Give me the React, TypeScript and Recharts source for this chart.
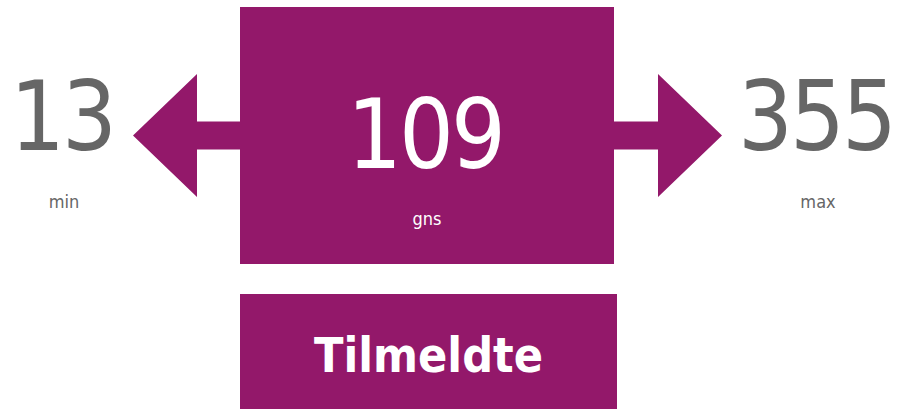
import React from 'react';
import { ComposedChart, XAxis, YAxis, ReferenceArea } from 'recharts';

const PURPLE = '#93186a';
const GRAY = '#666666';
const FONT = '"DejaVu Sans Condensed", "DejaVu Sans", sans-serif';

// data
const statNames = ['min', 'gns', 'max'];
const statValues = [13, 109, 355];
const title = 'Tilmeldte';

const W = 901;
const H = 409;

const data = [{ name: title, min: statValues[0], avg: statValues[1], max: statValues[2] }];

function arrowShape(dir: 'left' | 'right') {
  return (props: any) => {
    const { x, y, width, height } = props;
    const cy = y + height / 2;
    const head = 64;
    const half = 14;
    let pts: number[][];
    if (dir === 'left') {
      pts = [
        [x, cy], [x + head, y], [x + head, cy - half], [x + width, cy - half],
        [x + width, cy + half], [x + head, cy + half], [x + head, y + height],
      ];
    } else {
      pts = [
        [x + width, cy], [x + width - head, y], [x + width - head, cy - half], [x, cy - half],
        [x, cy + half], [x + width - head, cy + half], [x + width - head, y + height],
      ];
    }
    return <polygon points={pts.map(p => p.join(',')).join(' ')} fill={PURPLE} />;
  };
}

function statLabel(value: number, name: string, color: string, valueY: number, nameY: number) {
  return (props: any) => {
    const vb = props.viewBox || {};
    const cx = vb.x + vb.width / 2;
    return (
      <g fontFamily={FONT} fill={color} textAnchor="middle">
        <text x={cx - 2} y={valueY} fontSize={96} letterSpacing={-3}>{value}</text>
        <text x={cx} y={nameY} fontSize={18}>{name}</text>
      </g>
    );
  };
}

function titleLabel(props: any) {
  const vb = props.viewBox || {};
  return (
    <text x={vb.x + vb.width / 2} y={372} fontFamily={FONT} fontWeight="bold" fontSize={48}
      fill="#ffffff" textAnchor="middle">{title}</text>
  );
}

export default function App() {
  return (
    <div style={{ position: 'absolute', left: 0, top: 0, background: '#fff' }}>
      <ComposedChart width={W} height={H} data={data} margin={{ top: 0, right: 0, bottom: 0, left: 0 }}>
        <XAxis type="number" dataKey="avg" domain={[0, W]} hide allowDataOverflow />
        <YAxis type="number" domain={[0, H]} reversed hide allowDataOverflow />
        {/* main box */}
        <ReferenceArea x1={240} x2={614} y1={7} y2={264} fill={PURPLE} fillOpacity={1} stroke="none"
          label={statLabel(statValues[1], statNames[1], '#ffffff', 168, 225)} />
        {/* arrows */}
        <ReferenceArea x1={133} x2={241} y1={74} y2={197} shape={arrowShape('left')} />
        <ReferenceArea x1={613} x2={722} y1={74} y2={197} shape={arrowShape('right')} />
        {/* min / max */}
        <ReferenceArea x1={0} x2={128} y1={60} y2={220} fillOpacity={0} stroke="none"
          label={statLabel(statValues[0], statNames[0], GRAY, 150, 208)} />
        <ReferenceArea x1={740} x2={896} y1={60} y2={220} fillOpacity={0} stroke="none"
          label={statLabel(statValues[2], statNames[2], GRAY, 150, 208)} />
        {/* title box */}
        <ReferenceArea x1={240} x2={617} y1={294} y2={409} fill={PURPLE} fillOpacity={1} stroke="none"
          label={titleLabel} />
      </ComposedChart>
    </div>
  );
}
